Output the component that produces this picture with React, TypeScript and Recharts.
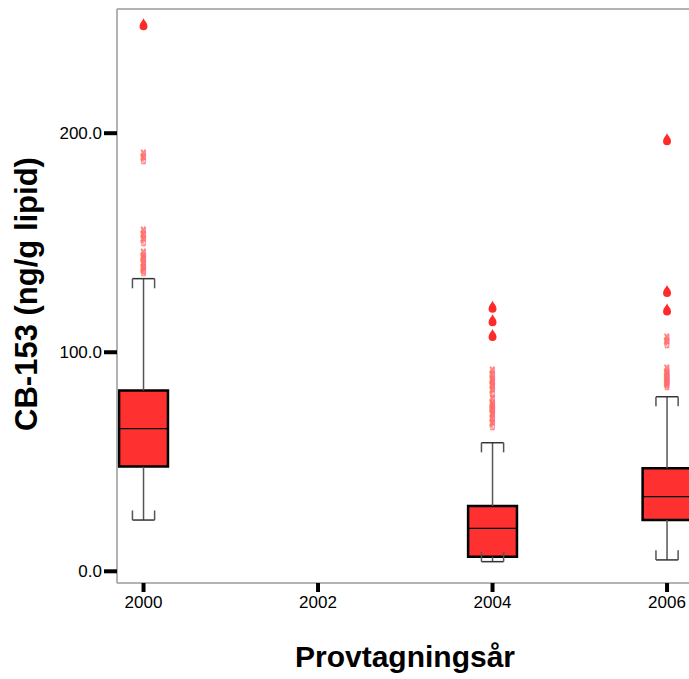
import {
  ScatterChart,
  Scatter,
  XAxis,
  YAxis,
  ReferenceArea,
  ReferenceLine,
} from "recharts";

// box summaries per sampling year
const years = [2000, 2004, 2006];
const q1 = [47.8, 6.7, 23.4];
const median = [65.1, 19.6, 34.1];
const q3 = [82.5, 29.8, 47.0];
const whiskerLow = [23.4, 4.4, 5.2];
const whiskerHigh = [133.6, 58.7, 79.7];

// outliers (pink glyphs) and extremes (red drops)
const outlierYears = [
  2000, 2000, 2000, 2000, 2000, 2000, 2000, 2000, 2000, 2000, 2000,
  2004, 2004, 2004, 2004, 2004, 2004, 2004, 2004, 2004, 2004, 2004, 2004, 2004, 2004,
  2006, 2006, 2006, 2006, 2006, 2006, 2006, 2006, 2006,
];
const outlierValues = [
  190, 188, 155, 153, 151, 145, 143, 142, 140, 138, 137,
  91, 89, 87, 86, 84, 82, 78, 76, 75, 74, 73, 71, 69, 67,
  106, 104, 92, 90, 89, 88, 87, 86, 85,
];
const extremeYears = [2000, 2004, 2004, 2004, 2006, 2006, 2006];
const extremeValues = [249.5, 120.5, 114.4, 107.6, 197, 127.7, 119.3];

const xTicks = [2000, 2002, 2004, 2006];
const yTicks = [0, 100, 200];

const outlierData = outlierYears.map((x, i) => ({ x, y: outlierValues[i] }));
const extremeData = extremeYears.map((x, i) => ({ x, y: extremeValues[i] }));

const BOX_HALF = 0.28;
const CAP_HALF = 0.127;
const CAP_TICK = 4.4;
const FONT = "'Liberation Sans', Arial, sans-serif";
const FRAME = "#9a9a9a";

const Drop = (props: any) => {
  const { cx, cy } = props;
  if (cx == null || cy == null) return null;
  const r = 4;
  const d = `M ${cx} ${cy - 6.5} C ${cx + 1} ${cy - 4} ${cx + r} ${cy - 1.5} ${cx + r} ${cy + 1.5} A ${r} ${r} 0 0 1 ${cx - r} ${cy + 1.5} C ${cx - r} ${cy - 1.5} ${cx - 1} ${cy - 4} ${cx} ${cy - 6.5} Z`;
  return <path d={d} fill="#ff2a2a" />;
};

const Glyph = (props: any) => {
  const { cx, cy } = props;
  if (cx == null || cy == null) return null;
  return (
    <text
      x={cx}
      y={cy + 5}
      textAnchor="middle"
      fontSize={14}
      fontFamily="'DejaVu Sans', sans-serif"
      fill="#ffe4e4"
      fillOpacity={0.6}
      stroke="#ff6060"
      strokeOpacity={0.8}
      strokeWidth={0.6}
    >
      ✌
    </text>
  );
};

export default function App() {
  return (
    <div
      style={{
        position: "fixed",
        left: 0,
        top: 0,
        width: 689,
        height: 679,
        overflow: "hidden",
        background: "#fff",
      }}
    >
      <ScatterChart
        width={760}
        height={679}
        margin={{ top: 9, right: 40, left: 57, bottom: 66 }}
      >
        <XAxis
          type="number"
          dataKey="x"
          domain={[1999.696, 2006.607]}
          ticks={xTicks}
          allowDataOverflow
          height={30}
          axisLine={{ stroke: FRAME, strokeWidth: 1.5 }}
          tickLine={{ stroke: "#000", strokeWidth: 4 }}
          tickSize={9}
          tickMargin={4}
          tick={{ fontSize: 17, fill: "#000", fontFamily: FONT }}
        />
        <YAxis
          type="number"
          dataKey="y"
          domain={[-5.34, 256.7]}
          ticks={yTicks}
          allowDataOverflow
          width={60}
          axisLine={{ stroke: FRAME, strokeWidth: 1.5 }}
          tickLine={{ stroke: "#000", strokeWidth: 4 }}
          tickSize={13}
          tickMargin={2}
          tickFormatter={(v: number) => v.toFixed(1)}
          tick={{ fontSize: 17, fill: "#000", fontFamily: FONT }}
        />
        <ReferenceLine y={256.7} stroke={FRAME} strokeWidth={1.5} />

        {years.map((yr, i) => (
          <ReferenceLine
            key={`wl-${yr}`}
            segment={[{ x: yr, y: whiskerLow[i] }, { x: yr, y: q1[i] }]}
            stroke="#555"
            strokeWidth={1.5}
          />
        ))}
        {years.map((yr, i) => (
          <ReferenceLine
            key={`wh-${yr}`}
            segment={[{ x: yr, y: q3[i] }, { x: yr, y: whiskerHigh[i] }]}
            stroke="#555"
            strokeWidth={1.5}
          />
        ))}
        {years.map((yr, i) => (
          <ReferenceArea
            key={`box-${yr}`}
            x1={yr - BOX_HALF}
            x2={yr + BOX_HALF}
            y1={q1[i]}
            y2={q3[i]}
            fill="#ff3030"
            fillOpacity={1}
            stroke="#000"
            strokeWidth={2.5}
            ifOverflow="visible"
          />
        ))}
        {years.map((yr, i) => (
          <ReferenceLine
            key={`med-${yr}`}
            segment={[
              { x: yr - BOX_HALF, y: median[i] },
              { x: yr + BOX_HALF, y: median[i] },
            ]}
            stroke="#000"
            strokeWidth={1.2}
            ifOverflow="visible"
          />
        ))}
        {years.map((yr, i) => (
          <ReferenceLine
            key={`capH-${yr}`}
            segment={[
              { x: yr - CAP_HALF, y: whiskerHigh[i] },
              { x: yr + CAP_HALF, y: whiskerHigh[i] },
            ]}
            stroke="#333"
            strokeWidth={1.5}
          />
        ))}
        {years.map((yr, i) => (
          <ReferenceLine
            key={`capL-${yr}`}
            segment={[
              { x: yr - CAP_HALF, y: whiskerLow[i] },
              { x: yr + CAP_HALF, y: whiskerLow[i] },
            ]}
            stroke="#333"
            strokeWidth={1.5}
          />
        ))}
        {years.flatMap((yr, i) =>
          [-CAP_HALF, CAP_HALF].map((off) => (
            <ReferenceLine
              key={`tickH-${yr}-${off}`}
              segment={[
                { x: yr + off, y: whiskerHigh[i] },
                { x: yr + off, y: whiskerHigh[i] - CAP_TICK },
              ]}
              stroke="#555"
              strokeWidth={1.5}
            />
          ))
        )}
        {years.flatMap((yr, i) =>
          [-CAP_HALF, CAP_HALF].map((off) => (
            <ReferenceLine
              key={`tickL-${yr}-${off}`}
              segment={[
                { x: yr + off, y: whiskerLow[i] },
                { x: yr + off, y: whiskerLow[i] + CAP_TICK },
              ]}
              stroke="#555"
              strokeWidth={1.5}
            />
          ))
        )}

        <Scatter data={outlierData} shape={Glyph} isAnimationActive={false} />
        <Scatter data={extremeData} shape={Drop} isAnimationActive={false} />
      </ScatterChart>

      <div
        style={{
          position: "absolute",
          left: 27,
          top: 294,
          transform: "translate(-50%, -50%) rotate(-90deg)",
          whiteSpace: "nowrap",
          fontFamily: FONT,
          fontWeight: "bold",
          fontSize: 31,
          color: "#000",
        }}
      >
        CB-153 (ng/g lipid)
      </div>
      <div
        style={{
          position: "absolute",
          left: 405,
          top: 657,
          transform: "translate(-50%, -50%)",
          whiteSpace: "nowrap",
          fontFamily: FONT,
          fontWeight: "bold",
          fontSize: 30,
          color: "#000",
        }}
      >
        Provtagningsår
      </div>
    </div>
  );
}
